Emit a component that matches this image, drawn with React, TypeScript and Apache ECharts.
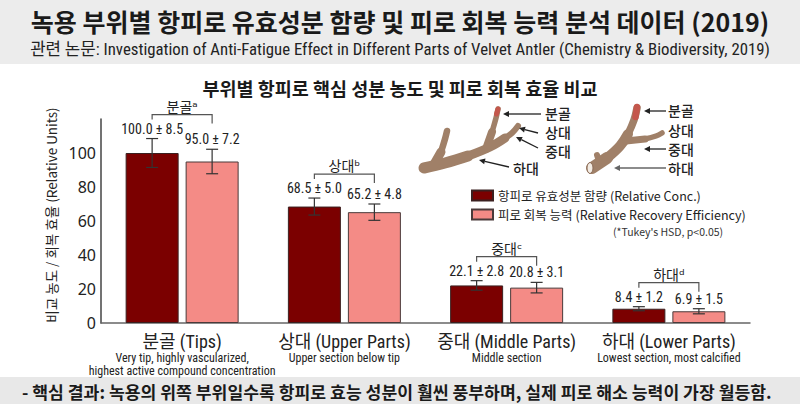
import React, { useEffect, useRef } from "react";
import * as echarts from "echarts";

const categories = ["분골 (Tips)", "상대 (Upper Parts)", "중대 (Middle Parts)", "하대 (Lower Parts)"];
const categoryNotes = [
  ["Very tip, highly vascularized,", "highest active compound concentration"],
  ["Upper section below tip"],
  ["Middle section"],
  ["Lowest section, most calcified"],
];
const groupLabels = ["분골", "상대", "중대", "하대"];
const groupLetters = ["ᵃ", "ᵇ", "ᶜ", "ᵈ"];
const seriesNames = ["항피로 유효성분 함량 (Relative Conc.)", "피로 회복 능력 (Relative Recovery Efficiency)"];
const concValues = [100.0, 68.5, 22.1, 8.4];
const concErrors = [8.5, 5.0, 2.8, 1.2];
const recoveryValues = [95.0, 65.2, 20.8, 6.9];
const recoveryErrors = [7.2, 4.8, 3.1, 1.5];

const TITLE = "녹용 부위별 항피로 유효성분 함량 및 피로 회복 능력 분석 데이터 (2019)";
const SUBTITLE = "관련 논문: Investigation of Anti-Fatigue Effect in Different Parts of Velvet Antler (Chemistry & Biodiversity, 2019)";
const CHART_TITLE = "부위별 항피로 핵심 성분 농도 및 피로 회복 효율 비교";
const Y_NAME = "비교 농도 / 회복 효율 (Relative Units)";
const NOTE = "(*Tukey's HSD, p<0.05)";
const FOOTER = "- 핵심 결과: 녹용의 위쪽 부위일수록 항피로 효능 성분이 훨씬 풍부하며, 실제 피로 해소 능력이 가장 월등함.";

const FONT = "'Noto Sans CJK KR', 'Noto Sans', sans-serif";
const SANS = "'Noto Sans', 'Noto Sans CJK KR', sans-serif";
const NARROW = "'Liberation Sans Narrow', 'Roboto Condensed', 'Noto Sans CJK KR', sans-serif";
const BAR_W = 53;
const BAR_GAP = 7;
const OFF = (BAR_W + BAR_GAP) / 2;
const BROWN = "#a08068";
const RED_TIP = "#c4574c";

function errRender(off: number) {
  return (params: any, api: any) => {
    const i = api.value(0);
    const v = api.value(1);
    const e = api.value(2);
    const top = api.coord([i, v + e]);
    const bot = api.coord([i, v - e]);
    const x = top[0] + off;
    const hw = 6;
    const st = { stroke: "#333", lineWidth: 1.2 };
    return {
      type: "group",
      children: [
        { type: "line", shape: { x1: x, y1: top[1], x2: x, y2: bot[1] }, style: st },
        { type: "line", shape: { x1: x - hw, y1: top[1], x2: x + hw, y2: top[1] }, style: st },
        { type: "line", shape: { x1: x - hw, y1: bot[1], x2: x + hw, y2: bot[1] }, style: st },
        {
          type: "text",
          x,
          y: top[1] - 10,
          style: {
            text: `${v.toFixed(1)} ± ${e.toFixed(1)}`,
            align: "center",
            verticalAlign: "middle",
            fontSize: 14,
            fill: "#222",
            fontFamily: NARROW,
          },
        },
      ],
    };
  };
}

function bracketRender(params: any, api: any) {
  const i = api.value(0);
  const m = api.value(1);
  const c = api.coord([i, m]);
  const y = c[1] - 24;
  const xl = c[0] - OFF;
  const xr = c[0] + OFF;
  return {
    type: "group",
    children: [
      {
        type: "polyline",
        shape: { points: [[xl, y + 5], [xl, y], [xr, y], [xr, y + 9]] },
        style: { stroke: "#555", lineWidth: 1.2, fill: null },
      },
      {
        type: "text",
        x: c[0],
        y: y - 9,
        style: {
          text: groupLabels[i] + groupLetters[i],
          align: "center",
          verticalAlign: "middle",
          fontSize: 14,
          fill: "#222",
          fontFamily: "'Noto Sans CJK KR', 'DejaVu Sans', sans-serif",
        },
      },
    ],
  };
}

function seg(points: number[][], w: number, color = BROWN) {
  return {
    type: "polyline",
    shape: { points, smooth: 0.4 },
    style: { stroke: color, lineWidth: w, lineCap: "round", lineJoin: "round", fill: null },
    silent: true,
  };
}

function arrow(x1: number, y1: number, x2: number, y2: number, color = "#222") {
  const a = Math.atan2(y2 - y1, x2 - x1);
  const L = 6;
  const W = 3;
  const bx = x2 - L * Math.cos(a);
  const by = y2 - L * Math.sin(a);
  const px = -Math.sin(a) * W;
  const py = Math.cos(a) * W;
  return [
    { type: "line", shape: { x1, y1, x2: bx, y2: by }, style: { stroke: color, lineWidth: 1.3 }, silent: true },
    {
      type: "polygon",
      shape: { points: [[x2, y2], [bx + px, by + py], [bx - px, by - py]] },
      style: { fill: color },
      silent: true,
    },
  ];
}

function label(text: string, x: number, y: number) {
  return {
    type: "text",
    x,
    y,
    style: { text, fontSize: 14, fill: "#222", fontFamily: FONT, verticalAlign: "middle", align: "left", fontWeight: 500 },
    silent: true,
  };
}

function antlerGraphics() {
  const g: any[] = [];
  // left antler
  g.push(seg([[424, 168], [445, 163], [468, 156]], 11));
  g.push(seg([[468, 156], [490, 147], [505, 138]], 9));
  g.push(seg([[505, 138], [512, 133], [518, 126]], 6));
  g.push(seg([[433, 166], [441, 152]], 9));
  g.push(seg([[441, 152], [445, 139], [447, 131]], 6.5));
  g.push(seg([[486, 149], [492, 132]], 8));
  g.push(seg([[492, 132], [496, 118], [498, 109]], 5.5));
  g.push(seg([[496.5, 114], [498, 109]], 5, RED_TIP));
  // right antler
  g.push(seg([[592, 168], [607, 158]], 12));
  g.push(seg([[607, 158], [620, 146], [628, 134]], 10));
  g.push(seg([[628, 134], [634, 120], [637, 108]], 7.5));
  g.push(seg([[635.5, 117], [637, 107]], 6.5, RED_TIP));
  g.push(seg([[626, 141], [645, 139]], 7));
  g.push(seg([[645, 139], [656, 136], [662, 133]], 5.5));
  g.push(seg([[599, 161], [597, 155]], 6));
  g.push({
    type: "ellipse",
    shape: { cx: 590, cy: 168, rx: 3, ry: 5.5 },
    style: { fill: "#f2ebe3", stroke: "#8a6a55", lineWidth: 1 },
    silent: true,
  });
  // left labels
  g.push(...arrow(541, 114, 503, 114));
  g.push(...arrow(538, 133, 519, 128));
  g.push(...arrow(538, 148, 516, 137));
  g.push(...arrow(509, 167, 479, 160));
  g.push(label("분골", 545, 113));
  g.push(label("상대", 545, 132));
  g.push(label("중대", 545, 151));
  g.push(label("하대", 513, 168));
  // right labels
  g.push(...arrow(666, 111, 644, 111));
  g.push(...arrow(666, 149, 644, 149));
  g.push(...arrow(666, 168, 614, 168, "#666"));
  g.push(label("분골", 668, 110));
  g.push(label("상대", 668, 130));
  g.push(label("중대", 668, 149));
  g.push(label("하대", 668, 168));
  return g;
}

export default function App() {
  const ref = useRef<HTMLDivElement>(null);
  useEffect(() => {
    if (!ref.current) return;
    const chart = echarts.init(ref.current, undefined, { renderer: "svg" });
    const maxTop = categories.map((_, i) =>
      Math.max(concValues[i] + concErrors[i], recoveryValues[i] + recoveryErrors[i])
    );
    const option: any = {
      animation: false,
      backgroundColor: "#ffffff",
      textStyle: { fontFamily: FONT },
      grid: { left: 101, right: 50, top: 119, bottom: 81 },
      legend: {
        data: seriesNames,
        orient: "vertical",
        left: 466,
        top: 184,
        itemWidth: 21,
        itemHeight: 10,
        itemGap: 6,
        icon: "rect",
        textStyle: { fontSize: 12.5, color: "#222", fontFamily: FONT, lineHeight: 13 },
        selectedMode: false,
      },
      xAxis: {
        type: "category",
        data: categories,
        axisLine: { lineStyle: { color: "#666", width: 1.5 } },
        axisTick: { alignWithLabel: true, length: 5, lineStyle: { color: "#666" } },
        axisLabel: {
          interval: 0,
          margin: 8,
          formatter: (val: string, idx: number) =>
            `{m|${val}}\n` + categoryNotes[idx].map((n) => `{s|${n}}`).join("\n"),
          rich: {
            m: { fontSize: 18, color: "#222", fontFamily: NARROW, lineHeight: 20 },
            s: { fontSize: 12, color: "#222", fontFamily: NARROW, lineHeight: 13 },
          },
        },
      },
      yAxis: {
        type: "value",
        min: 0,
        max: 120,
        interval: 20,
        name: Y_NAME,
        nameLocation: "middle",
        nameRotate: 90,
        nameGap: 33,
        nameTextStyle: { fontSize: 13.5, color: "#222", fontFamily: FONT, padding: [0, 0, 0, 12] },
        axisLine: { show: true, lineStyle: { color: "#444", width: 1.5 } },
        axisTick: { show: false },
        splitLine: { show: false },
        axisLabel: {
          fontSize: 16,
          color: "#222",
          margin: 5,
          fontFamily: SANS,
          formatter: (v: number) => (v > 100 ? "" : String(v)),
        },
      },
      series: [
        {
          type: "bar",
          name: seriesNames[0],
          data: concValues,
          barWidth: BAR_W,
          barGap: `${(BAR_GAP / BAR_W) * 100}%`,
          itemStyle: { color: "#7b0000", borderColor: "#3b2020", borderWidth: 1 },
        },
        {
          type: "bar",
          name: seriesNames[1],
          data: recoveryValues,
          barWidth: BAR_W,
          itemStyle: { color: "#f48b86", borderColor: "#4a3a3a", borderWidth: 1 },
        },
        {
          type: "custom",
          name: "err-conc",
          data: concValues.map((v, i) => [i, v, concErrors[i]]),
          renderItem: errRender(-OFF),
          z: 10,
          silent: true,
        },
        {
          type: "custom",
          name: "err-rec",
          data: recoveryValues.map((v, i) => [i, v, recoveryErrors[i]]),
          renderItem: errRender(OFF),
          z: 10,
          silent: true,
        },
        {
          type: "custom",
          name: "brackets",
          data: maxTop.map((m, i) => [i, m]),
          renderItem: bracketRender,
          z: 10,
          silent: true,
        },
      ],
      graphic: [
        { type: "rect", shape: { x: 0, y: 0, width: 800, height: 64 }, style: { fill: "#ececec" }, silent: true, z: -10 },
        { type: "rect", shape: { x: 0, y: 377, width: 800, height: 27 }, style: { fill: "#e8e8e8" }, silent: true, z: -10 },
        {
          type: "text",
          x: 400,
          y: 21,
          style: { text: TITLE, fontSize: 25, fontWeight: "bold", fill: "#1a1a1a", align: "center", verticalAlign: "middle", fontFamily: FONT },
          silent: true,
        },
        {
          type: "text",
          x: 400,
          y: 49,
          style: { text: SUBTITLE, fontSize: 16.8, fill: "#222", align: "center", verticalAlign: "middle", fontFamily: NARROW },
          silent: true,
        },
        {
          type: "text",
          x: 400,
          y: 88,
          style: { text: CHART_TITLE, fontSize: 18.5, fontWeight: "bold", fill: "#1a1a1a", align: "center", verticalAlign: "middle", fontFamily: FONT },
          silent: true,
        },
        {
          type: "text",
          x: 613,
          y: 231,
          style: { text: NOTE, fontSize: 10.5, fill: "#333", align: "left", verticalAlign: "middle", fontFamily: FONT },
          silent: true,
        },
        {
          type: "text",
          x: 22,
          y: 391,
          style: { text: FOOTER, fontSize: 17.2, fontWeight: "bold", fill: "#1a1a1a", align: "left", verticalAlign: "middle", fontFamily: FONT },
          silent: true,
        },
        ...antlerGraphics(),
      ],
    };
    chart.setOption(option);
    return () => chart.dispose();
  }, []);
  return <div ref={ref} style={{ position: "fixed", left: 0, top: 0, width: 800, height: 404 }} />;
}
